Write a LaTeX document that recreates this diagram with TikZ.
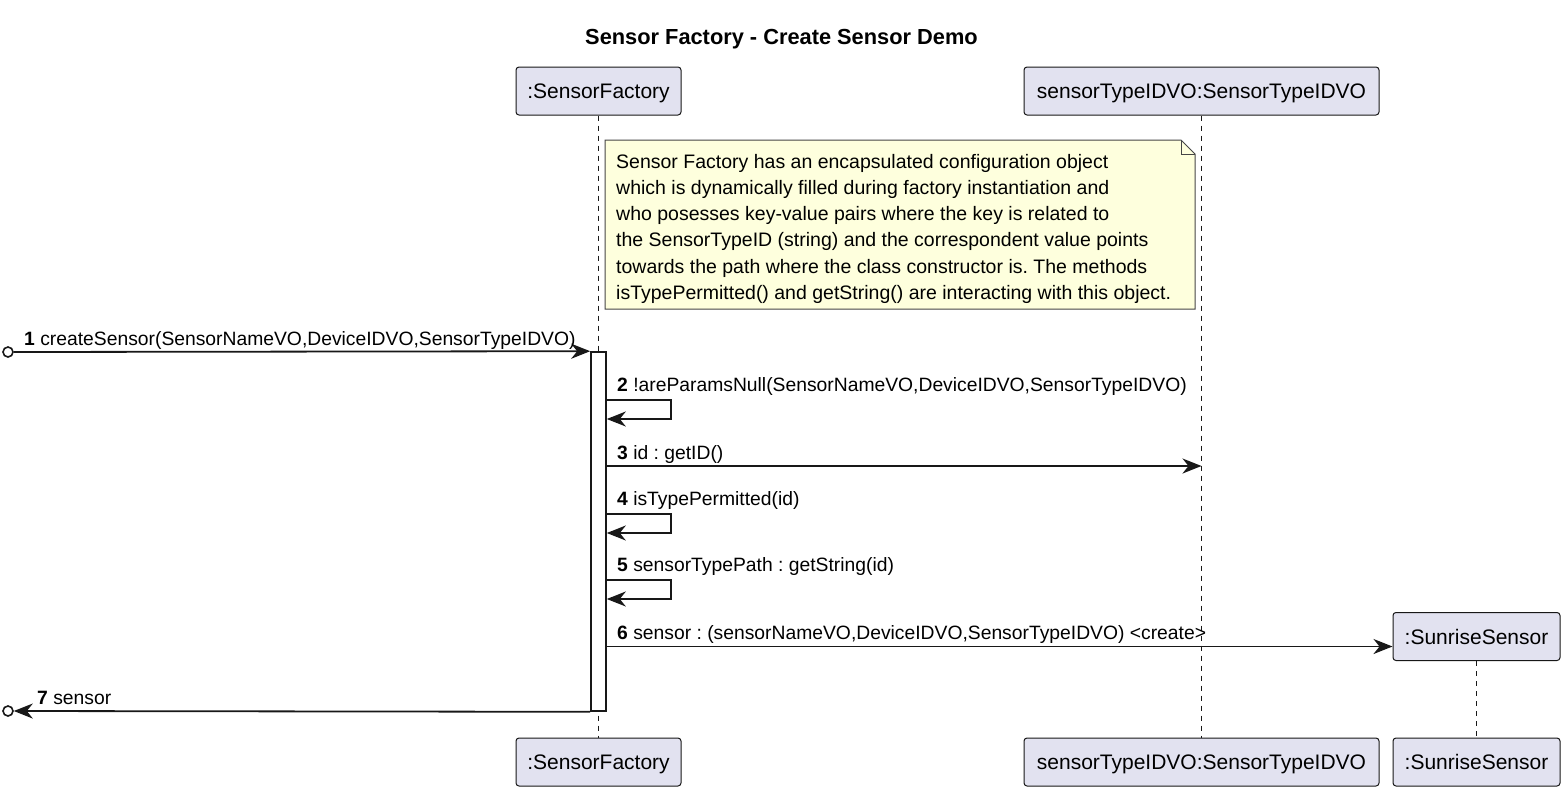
\documentclass[tikz,border=0pt]{standalone}
\usepackage{fontspec}
\setmainfont{Liberation Sans}
\usetikzlibrary{arrows.meta,shapes,positioning}
\frenchspacing

\definecolor{ink}{HTML}{181818}
\definecolor{partfill}{HTML}{E2E2F0}
\definecolor{notefill}{HTML}{FEFFDD}

\tikzset{
  part/.style={draw=ink,fill=partfill,rounded corners=3pt,line width=1pt,minimum height=48pt,inner sep=0pt,text height=15pt,text depth=0pt,font=\fontsize{21}{25}\selectfont},
  life/.style={draw=ink,line width=1pt,dash pattern=on 5pt off 5pt},
  msg/.style={draw=ink,line width=1.8pt,-{Stealth[length=19pt,width=15pt,inset=6pt]}},
  lbl/.style={anchor=base west,inner sep=0pt,font=\fontsize{19.3}{23}\selectfont},
  endpt/.style={circle,draw=ink,line width=1.6pt,fill=white,minimum size=10pt,inner sep=0pt}
}

\begin{document}
\begin{tikzpicture}[x=1pt,y=-1pt]
\useasboundingbox[fill=white] (0,0) rectangle (1567,793);

\node[font=\fontsize{21.8}{25}\bfseries\selectfont] (title) at (781.5,39) {Sensor Factory - Create Sensor Demo};

\foreach \x/\w/\txt [count=\n] in {598.5/165/{:SensorFactory},1201.5/355/{sensorTypeIDVO:SensorTypeIDVO}}
{
  \node[part,minimum width=\w pt] (P\n) at (\x,91) {\txt};
  \node[part,minimum width=\w pt] (Q\n) at (\x,762) {\txt};
  \draw[life] (P\n.south) -- (Q\n.north);
}
\node[part,minimum width=167pt] (P3) at (1476.5,636.5) {:SunriseSensor};
\node[part,minimum width=167pt] (Q3) at (1476.5,762) {:SunriseSensor};
\draw[life] (P3.south) -- (Q3.north);

\coordinate (nw) at (605,140);
\coordinate (se) at (1195,309);
\draw[draw=ink!80,fill=notefill,line width=1pt] (nw) -- (1181,140) -- (1195,154) -- (se) -- (605,309) -- cycle;
\draw[draw=ink!80,line width=1pt] (1181,140) -- (1181,154) -- (1195,154);
\node[anchor=north west,align=left,inner sep=0pt,font=\fontsize{19.5}{26.2}\selectfont] (note) at (616,154)
{Sensor Factory has an encapsulated configuration object\\
which is dynamically filled during factory instantiation and\\
who posesses key-value pairs where the key is related to\\
the SensorTypeID (string) and the correspondent value points\\
towards the path where the class constructor is. The methods\\
isTypePermitted() and getString() are interacting with this object.};

\node[draw=ink,fill=white,line width=1.6pt,minimum width=15pt,minimum height=359pt,inner sep=0pt] (act) at (598.5,531.5) {};

\node[endpt] (in1) at (8,352) {};
\draw[msg] (in1.east) -- (act.north west);
\node[lbl] (L1) at (24,345) {\textbf{1} createSensor(SensorNameVO,DeviceIDVO,SensorTypeIDVO)};

\foreach \y/\k/\txt in {400/2/{!areParamsNull(SensorNameVO,DeviceIDVO,SensorTypeIDVO)},514/4/{isTypePermitted(id)},580/5/{sensorTypePath : getString(id)}}
{
  \draw[msg] (act.east |- 0,\y) -- ++(64,0) -- ++(0,19) -- (act.east |- 0,\y+19);
  \node[lbl] (L\k) at (617,\y-9) {\textbf{\k} \txt};
}

\draw[msg] (act.east |- 0,466) -- (P2 |- 0,466);
\node[lbl] (L3) at (617,459) {\textbf{3} id : getID()};

\draw[msg] (act.east |- 0,646.5) -- ([yshift=-10pt]P3.west);
\node[lbl] (L6) at (617,639) {\textbf{6} sensor : (sensorNameVO,DeviceIDVO,SensorTypeIDVO) <create>};

\node[endpt] (out7) at (8,711) {};
\draw[msg] (act.south west) -- (out7.east);
\node[lbl] (L7) at (37,704) {\textbf{7} sensor};
\end{tikzpicture}
\end{document}
